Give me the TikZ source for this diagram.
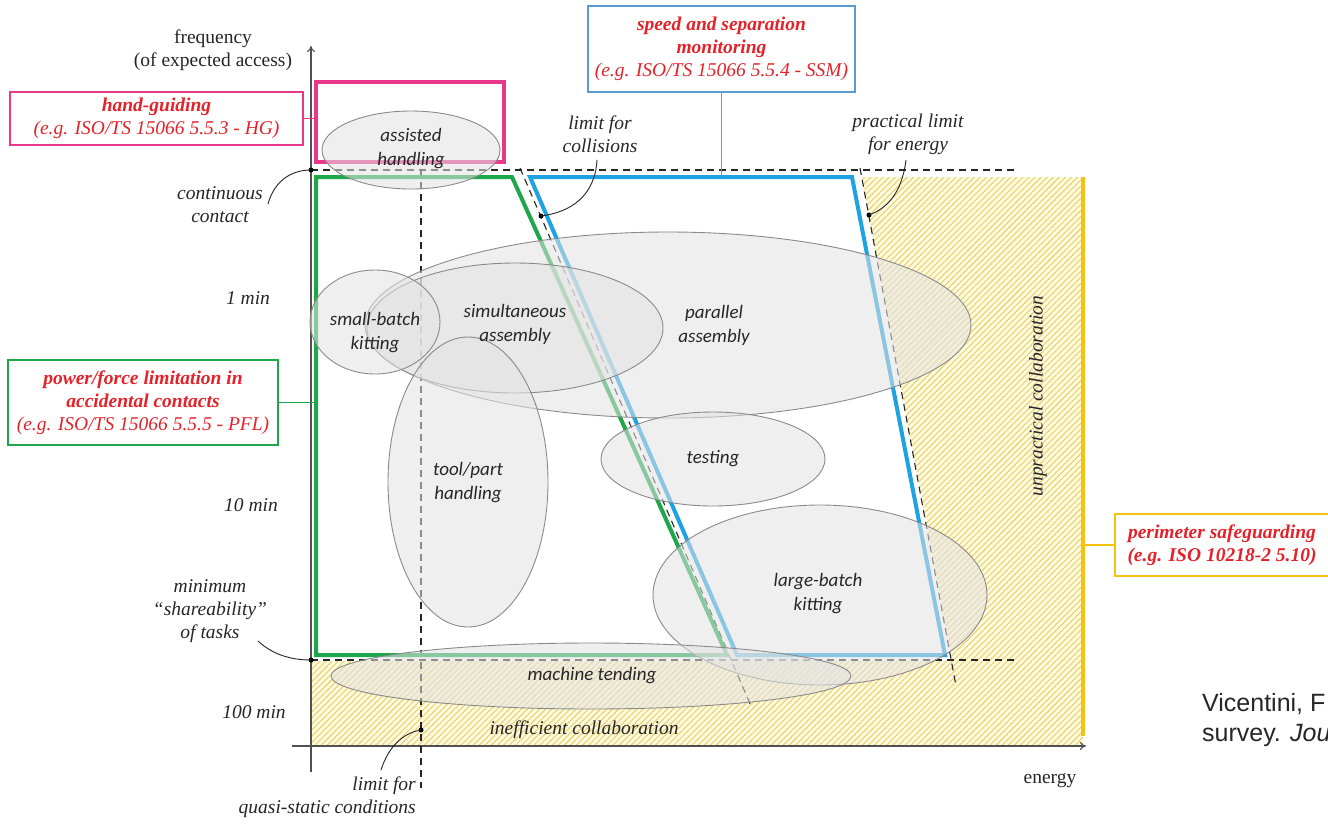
\documentclass[tikz,border=0pt]{standalone}
\usepackage{fontspec}
\setmainfont{Liberation Serif}
\newfontfamily\calfont{Carlito}
\newfontfamily\arialfont{Liberation Sans}
\usetikzlibrary{shapes.geometric,patterns.meta,arrows.meta,calc}
\definecolor{pinkc}{HTML}{E8388C}
\definecolor{greenc}{HTML}{1DA64A}
\definecolor{bluec}{HTML}{1EA2E2}
\definecolor{boxblue}{HTML}{5B9BD5}
\definecolor{goldc}{HTML}{F7C20F}
\definecolor{redtxt}{HTML}{E3222A}
\definecolor{hatchc}{HTML}{EAD36A}
\definecolor{hatchbg}{HTML}{FFFBE3}
\definecolor{txtc}{HTML}{262626}
\definecolor{blobfill}{HTML}{E3E3E3}
\definecolor{blobline}{HTML}{8A8A8A}
\begin{document}
\begin{tikzpicture}[x=1pt,y=-1pt,
  lbl/.style={font=\fontsize{19.5}{23}\selectfont\itshape, text=txtc, align=center, inner sep=0pt},
  uplbl/.style={font=\fontsize{19.5}{23}\selectfont, text=txtc, align=center, inner sep=0pt},
  redbox/.style={draw, line width=1.6pt, fill=white, font=\fontsize{19.5}{23}\selectfont\itshape, text=redtxt, align=center, inner sep=0pt},
  blob/.style={ellipse, draw=blobline, line width=0.9pt, fill=blobfill, fill opacity=0.55, inner sep=0pt},
  blobtxt/.style={font=\calfont\fontsize{19}{24}\selectfont\itshape, text=txtc, align=center, inner sep=0pt},
  dashline/.style={draw=txtc, line width=1.1pt, dash pattern=on 7pt off 5pt},
  axisline/.style={draw=txtc!80, line width=1.1pt},
  thinlink/.style={draw=txtc, line width=0.9pt},
  dotc/.style={circle, fill=black, inner sep=0pt, minimum size=5pt},
  zone/.style={line width=4pt, line join=miter}
]
\useasboundingbox (0,0) rectangle (1328,823);
\fill[white] (0,0) rectangle (1328,823);

% hatched zones
\path[preaction={fill=hatchbg}, pattern={Lines[angle=45,distance=4.3pt,line width=1.1pt]}, pattern color=hatchc]
  (862,177) -- (1083,177) -- (1083,746) -- (311,746) -- (311,661) -- (952,661) -- cycle;

% axes
\coordinate (yb) at (311,772);
\coordinate (yt) at (311,46);
\coordinate (xl) at (292,746);
\coordinate (xr) at (1086,746);
\draw[axisline,-{To[length=6pt,width=8pt]}] (yb) -- (yt);
\draw[axisline,-{To[length=6pt,width=8pt]}] (xl) -- (xr);

% dashed limits
\coordinate (ccL) at (311,170);
\coordinate (ccR) at (1017,170);
\coordinate (msL) at (311,660);
\coordinate (msR) at (1016,660);
\coordinate (qsT) at (421,170);
\coordinate (qsB) at (421,788);
\coordinate (lcT) at (520,168);
\coordinate (lcB) at (751,706);
\coordinate (peT) at (860,168);
\coordinate (peB) at (956,686);
\draw[dashline] (ccL) -- (ccR);
\draw[dashline] (msL) -- (msR);
\draw[dashline] (qsT) -- (qsB);
\draw[dashline] (lcT) -- (lcB);
\draw[dashline] (peT) -- (peB);

% zones
\node[draw=pinkc, line width=4pt, minimum width=188pt, minimum height=80pt, inner sep=0pt] (hgzone) at (410,122) {};
\draw[zone, draw=greenc] (316,177) -- (512,177) -- (727,655) -- (316,655) -- cycle;
\draw[zone, draw=bluec] (530,177) -- (852,177) -- (945,655) -- (737,655) -- cycle;
\coordinate (ylineT) at (1083,177);
\coordinate (ylineB) at (1083,736);
\draw[line width=4pt, draw=goldc] (ylineT) -- (ylineB);

% task ellipses
\node[blob, minimum width=178pt, minimum height=78pt] (eass) at (411,150) {};
\node[blob, minimum width=606pt, minimum height=186pt] (epar) at (668,325) {};
\node[blob, minimum width=296pt, minimum height=130pt] (esim) at (515,328) {};
\node[blob, minimum width=130pt, minimum height=104pt] (esmall) at (375,322) {};
\node[blob, minimum width=160pt, minimum height=290pt] (etool) at (468,482) {};
\node[blob, minimum width=224pt, minimum height=94pt] (etest) at (713,459) {};
\node[blob, minimum width=334pt, minimum height=180pt] (elarge) at (820,595) {};
\node[blob, minimum width=520pt, minimum height=66pt] (emach) at (591,676) {};

\node[blobtxt] (tass) at (411,149) {assisted\\handling};
\node[blobtxt] (tpar) at (714,325) {parallel\\assembly};
\node[blobtxt] (tsim) at (515,324) {simultaneous\\assembly};
\node[blobtxt] (tsmall) at (375,333) {small-batch\\kitting};
\node[blobtxt] (ttool) at (468,483) {tool/part\\handling};
\node[blobtxt] (ttest) at (713,459) {testing};
\node[blobtxt] (tlarge) at (818,594) {large-batch\\kitting};
\node[blobtxt] (tmach) at (592,676) {machine tending};

% callout boxes
\node[redbox, draw=pinkc, minimum width=293pt, minimum height=53pt] (hgbox) at (156.5,118.5)
  {\textbf{hand-guiding}\\(e.g. ISO/TS 15066 5.5.3 - HG)};
\draw[pinkc, line width=1.6pt] (hgbox.east) -- (hgbox.east -| hgzone.west);

\node[redbox, draw=greenc, minimum width=270pt, minimum height=85pt] (pflbox) at (143,402.5)
  {\textbf{power/force limitation in}\\\textbf{accidental contacts}\\(e.g. ISO/TS 15066 5.5.5 - PFL)};
\coordinate (greenL) at (316,402.5);
\draw[greenc, line width=1.6pt] (pflbox.east) -- (greenL);

\node[redbox, draw=boxblue, minimum width=267pt, minimum height=86pt] (ssmbox) at (721.5,49)
  {\textbf{speed and separation}\\\textbf{monitoring}\\(e.g. ISO/TS 15066 5.5.4 - SSM)};
\coordinate (blueT) at (721.5,177);
\draw[boxblue, line width=1.6pt] (ssmbox.south) -- (blueT);

\node[redbox, draw=goldc, minimum width=226pt, minimum height=62pt] (psbox) at (1228,545)
  {\hspace*{-12pt}\textbf{perimeter safeguarding}\\\hspace*{-12pt}\textbf{(e.g. ISO 10218-2 5.10)}};
\coordinate (goldL) at (1083,545);
\draw[goldc, line width=1.6pt] (psbox.west) -- (goldL);

% axis texts
\node[uplbl] (freq) at (213,50) {frequency\\(of expected access)};
\node[uplbl] (energy) at (1050,781) {energy};
\node[lbl] (t1) at (248,298) {1 min};
\node[lbl] (t10) at (251,505) {10 min};
\node[lbl] (t100) at (254,712) {100 min};
\node[lbl] (cont) at (220,205) {continuous\\contact};
\node[lbl] (share) at (210,611) {minimum\\``shareability''\\of tasks};
\node[lbl] (lcol) at (600,134) {limit for\\collisions};
\node[lbl] (lpe) at (908,134) {practical limit\\for energy};
\node[lbl, align=right, anchor=north east] (lqs) at (416,777) {limit for\\quasi-static conditions};
\node[lbl] (ineff) at (584,730) {inefficient collaboration};
\node[lbl, rotate=90] (unpr) at (1038,396) {unpractical collaboration};

% dots and leader curves
\node[dotc] (dcc) at (311,170) {};
\node[dotc] (dms) at (311,660) {};
\node[dotc] (dlc) at (541,216) {};
\node[dotc] (dpe) at (869,215) {};
\node[dotc] (dqs) at (421,730) {};
\coordinate (scc) at (268,204);
\coordinate (sms) at (258,641);
\coordinate (slc) at (597,160);
\coordinate (spe) at (906,160);
\coordinate (sqs) at (381,770);
\draw[thinlink] (scc) .. controls (274,182) and (290,170) .. (dcc.center);
\draw[thinlink] (sms) .. controls (272,654) and (290,660) .. (dms.center);
\draw[thinlink] (slc) .. controls (595,195) and (572,212) .. (dlc.center);
\draw[thinlink] (spe) .. controls (902,192) and (888,208) .. (dpe.center);
\draw[thinlink] (sqs) .. controls (388,748) and (402,733) .. (dqs.center);

% citation (cut at the right edge)
\node[font=\arialfont\fontsize{25}{30}\selectfont, text=txtc, align=left, anchor=north west, inner sep=0pt] (cite) at (1202,693)
  {Vicentini, F\\survey. \textit{Jou}};
\end{tikzpicture}
\end{document}
